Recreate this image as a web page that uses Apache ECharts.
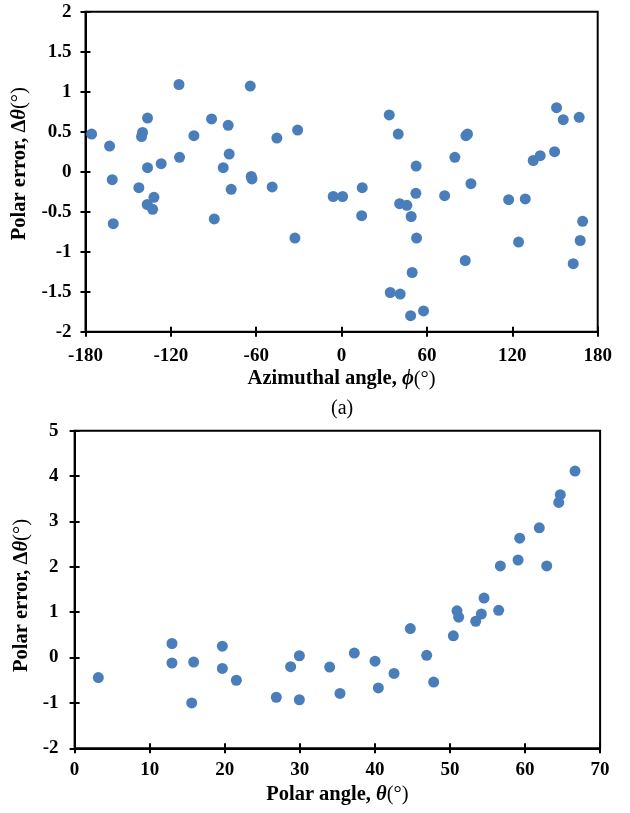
<!DOCTYPE html>
<html><head><meta charset="utf-8">
<script src="https://cdn.jsdelivr.net/npm/echarts@6/dist/echarts.min.js"></script>
<style>html,body{margin:0;padding:0;background:#fff}#c{width:630px;height:813px}</style>
</head><body><div id="c"></div>
<script>
// (a) Azimuthal angle vs polar error
const azimuthA = [-175.7,-163.1,-161.2,-160.5,-114.3,-136.4,-139.9,-140.6,-136.4,-126.8,-142.5,-131.9,-136.6,-132.8,-113.9,-103.8,-91.4,-79.7,-79.0,-83.2,-77.6,-89.5,-64.2,-63.5,-63.0,-45.5,-48.8,-30.9,-32.8,-5.9,0.7,14.5,14.1,33.5,39.8,52.4,52.2,40.8,45.9,48.9,52.7,49.6,34.2,41.2,48.5,57.6,72.4,79.6,87.4,88.5,90.9,86.9,117.4,129.1,124.4,134.7,139.6,149.7,151.1,155.8,167.0,169.4,167.7,162.8];
const errorA = [0.47,0.32,-0.10,-0.65,1.09,0.67,0.49,0.44,0.05,0.10,-0.20,-0.32,-0.41,-0.47,0.18,0.45,0.66,0.58,0.22,0.05,-0.22,-0.59,1.07,-0.06,-0.09,0.42,-0.19,0.52,-0.83,-0.31,-0.31,-0.20,-0.55,0.71,0.47,0.07,-0.27,-0.40,-0.42,-0.56,-0.83,-1.26,-1.51,-1.53,-1.80,-1.74,-0.30,0.18,0.45,0.47,-0.15,-1.11,-0.35,-0.34,-0.88,0.14,0.20,0.25,0.80,0.65,0.68,-0.62,-0.86,-1.15];
// (b) Polar angle vs polar error
const polarB = [3.16,12.97,12.97,15.86,15.6,19.68,19.68,21.55,26.87,28.78,29.94,29.94,33.98,35.35,37.26,40.02,40.46,42.55,44.72,46.90,47.83,50.45,50.94,51.16,53.43,54.18,54.54,56.49,56.71,59.07,59.29,61.9,62.89,64.49,64.7,66.66];
const errorB = [-0.44,0.31,-0.12,-0.10,-1.0,0.25,-0.24,-0.50,-0.875,-0.20,0.04,-0.93,-0.21,-0.79,0.10,-0.08,-0.67,-0.35,0.64,0.05,-0.54,0.48,1.03,0.89,0.80,0.96,1.31,1.04,2.02,2.15,2.63,2.86,2.02,3.42,3.59,4.11];
const ticksXA = {min:-180,max:180,interval:60};
const ticksYA = {min:-2,max:2,interval:0.5};
const ticksXB = {min:0,max:70,interval:10};
const ticksYB = {min:-2,max:5,interval:1};

const pair = (xs, ys) => xs.map((x,i)=>[x, ys[i]]);
const FF = '"Liberation Serif","Times New Roman",serif';
const TS = 20.5;
const rich = {
  b:{fontFamily:FF,fontWeight:'bold',fontSize:TS,color:'#000'},
  i:{fontFamily:'"Liberation Serif","DejaVu Serif",serif',fontWeight:'bold',fontStyle:'italic',fontSize:TS,color:'#000'},
  n:{fontFamily:FF,fontWeight:'normal',fontSize:TS,color:'#000'}
};
const lbl = {fontFamily:FF,fontWeight:'bold',fontSize:19,color:'#000'};
function mainX(g, t, name, margin, gap){
  return {type:'value',gridIndex:g,...t,position:'bottom',
    axisLine:{show:true,onZero:false,lineStyle:{color:'#000',width:2}},
    axisTick:{show:true,inside:false,length:5,lineStyle:{color:'#000',width:2}},
    axisLabel:{...lbl,margin:margin},splitLine:{show:false},
    name:name,nameLocation:'middle',nameGap:gap,nameTextStyle:{rich:rich}};
}
function innerX(g,t){
  return {type:'value',gridIndex:g,...t,position:'bottom',
    axisLine:{show:false,onZero:false},axisTick:{show:true,inside:true,length:5,lineStyle:{color:'#000',width:2}},
    axisLabel:{show:false},splitLine:{show:false}};
}
function mainY(g,t,name,margin,gap,pad){
  return {type:'value',gridIndex:g,...t,position:'left',
    axisLine:{show:true,onZero:false,lineStyle:{color:'#000',width:2}},
    axisTick:{show:true,inside:false,length:5,lineStyle:{color:'#000',width:2}},
    axisLabel:{...lbl,margin:margin},splitLine:{show:false},
    name:name,nameLocation:'middle',nameGap:gap,nameRotate:90,nameTextStyle:{rich:rich,padding:pad}};
}
function innerY(g,t){
  return {type:'value',gridIndex:g,...t,position:'left',
    axisLine:{show:false,onZero:false},axisTick:{show:true,inside:true,length:5,lineStyle:{color:'#000',width:2}},
    axisLabel:{show:false},splitLine:{show:false}};
}
const chart = echarts.init(document.getElementById('c'),null,{renderer:'canvas'});
chart.setOption({
  animation:false,
  backgroundColor:'#fff',
  grid:[
    {left:85.5,top:11.7,width:512.2,height:320,show:true,borderColor:'#000',borderWidth:2,backgroundColor:'transparent'},
    {left:74.6,top:430.7,width:525.5,height:317.6,show:true,borderColor:'#000',borderWidth:2,backgroundColor:'transparent'}
  ],
  xAxis:[
    mainX(0,ticksXA,'{b|Azimuthal angle, }{i|ϕ}{n|(°)}',15,37),
    innerX(0,ticksXA),
    mainX(1,ticksXB,'{b|Polar angle, }{i|θ}{n|(°)}',12.5,36),
    innerX(1,ticksXB)
  ],
  yAxis:[
    mainY(0,ticksYA,'{b|Polar error, Δ}{i|θ}{n|(°)}',14,54,[0,0,0,16]),
    innerY(0,ticksYA),
    mainY(1,ticksYB,'{b|Polar error, Δ}{i|θ}{n|(°)}',16,38,[0,12,0,0]),
    innerY(1,ticksYB)
  ],
  graphic:[{type:'text',left:331,top:399,style:{text:'(a)',fontFamily:FF,fontSize:20,fill:'#000'}}],
  series:[
    {type:'scatter',xAxisIndex:0,yAxisIndex:0,data:pair(azimuthA,errorA),symbolSize:11,itemStyle:{color:'#4A7EBB',opacity:1}},
    {type:'scatter',xAxisIndex:2,yAxisIndex:2,data:pair(polarB,errorB),symbolSize:11,itemStyle:{color:'#4A7EBB',opacity:1}}
  ]
});
</script></body></html>
